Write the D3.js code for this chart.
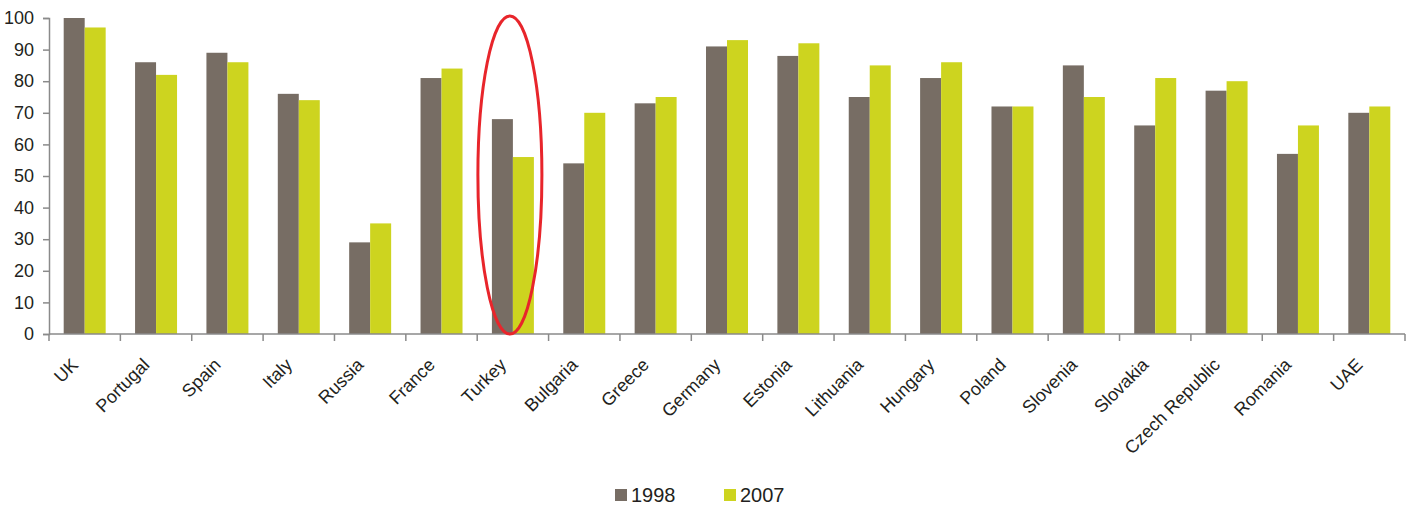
<!DOCTYPE html>
<head>
  <meta charset="utf-8">
  <title>1998 vs 2007</title>
</head>
<style>
  body { margin: 0; background: #fff; }
  svg { display: block; font-family: "Liberation Sans", Arial, sans-serif; }
  .axis path, .axis line { stroke: #8a8a8a; stroke-width: 1.5; }
  .axis text { fill: #231f20; font-size: 18px; }
  .legend text { fill: #231f20; font-size: 20px; }
</style>
<svg width="1411" height="506"></svg>
<script src="https://d3js.org/d3.v7.min.js"></script>
<script>
  var countries = ["UK", "Portugal", "Spain", "Italy", "Russia", "France", "Turkey", "Bulgaria", "Greece",
    "Germany", "Estonia", "Lithuania", "Hungary", "Poland", "Slovenia", "Slovakia", "Czech Republic", "Romania", "UAE"];
  var years = ["1998", "2007"];
  var values1998 = [100, 86, 89, 76, 29, 81, 68, 54, 73, 91, 88, 75, 81, 72, 85, 66, 77, 57, 70];
  var values2007 = [97, 82, 86, 74, 35, 84, 56, 70, 75, 93, 92, 85, 86, 72, 75, 81, 80, 66, 72];
  var yTicks = [0, 10, 20, 30, 40, 50, 60, 70, 80, 90, 100];
  var highlighted = "Turkey";

  var svg = d3.select("svg"),
    margin = { top: 18, right: 6, bottom: 172, left: 49 },
    width = +svg.attr("width") - margin.left - margin.right,
    height = +svg.attr("height") - margin.top - margin.bottom,
    g = svg.append("g").attr("transform", "translate(" + margin.left + "," + margin.top + ")");

  var color = d3.scaleOrdinal().domain(years).range(["#776d64", "#cdd41f"]);

  var x = d3.scaleBand().domain(countries).range([0, width]);
  var x1 = d3.scaleBand().domain(years).range([0, x.bandwidth()]).paddingInner(0).paddingOuter(0.7);
  var y = d3.scaleLinear().domain([0, 100]).range([height, 0]);

  var rows = countries.map(function (c, i) {
    return { country: c, vals: [{ year: "1998", v: values1998[i] }, { year: "2007", v: values2007[i] }] };
  });

  var group = g.selectAll(".country")
    .data(rows)
    .enter().append("g")
    .attr("class", "country")
    .attr("transform", function (d) { return "translate(" + x(d.country) + ",0)"; });

  group.selectAll("rect")
    .data(function (d) { return d.vals; })
    .enter().append("rect")
    .attr("x", function (d) { return x1(d.year); })
    .attr("width", x1.bandwidth())
    .attr("y", function (d) { return y(d.v); })
    .attr("height", function (d) { return height - y(d.v); })
    .attr("fill", function (d) { return color(d.year); });

  // y axis
  var yAxis = g.append("g")
    .attr("class", "axis")
    .call(d3.axisLeft(y).tickValues(yTicks).tickSize(6).tickPadding(9));

  // x axis, ticks at category boundaries
  var xAxis = g.append("g")
    .attr("class", "axis")
    .attr("transform", "translate(0," + height + ")");
  xAxis.append("line").attr("x1", 0).attr("x2", width).attr("y1", 0).attr("y2", 0);
  xAxis.selectAll(".tick")
    .data(countries.concat(["end"]))
    .enter().append("line")
    .attr("x1", function (d, i) { return i * x.step(); })
    .attr("x2", function (d, i) { return i * x.step(); })
    .attr("y1", 0).attr("y2", 7);
  xAxis.selectAll("text")
    .data(countries)
    .enter().append("text")
    .attr("text-anchor", "end")
    .attr("transform", function (d) {
      return "translate(" + (x(d) + x.bandwidth() / 2 - 5.5) + ",32) rotate(-45)";
    })
    .text(function (d) { return d; });

  // red ellipse around the highlighted country
  g.append("ellipse")
    .attr("cx", x(highlighted) + x.bandwidth() / 2 - 3)
    .attr("cy", (y(100) + y(0)) / 2 - 1)
    .attr("rx", 32)
    .attr("ry", (y(0) - y(100)) / 2 + 1)
    .attr("fill", "none")
    .attr("stroke", "#e8252b")
    .attr("stroke-width", 3);

  // legend
  var legend = svg.append("g").attr("class", "legend")
    .selectAll("g")
    .data(years)
    .enter().append("g")
    .attr("transform", function (d, i) { return "translate(" + (615 + i * 109) + ",489)"; });
  legend.append("rect").attr("width", 12).attr("height", 12).attr("fill", function (d) { return color(d); });
  legend.append("text").attr("x", 16).attr("y", 13).text(function (d) { return d; });
</script>
